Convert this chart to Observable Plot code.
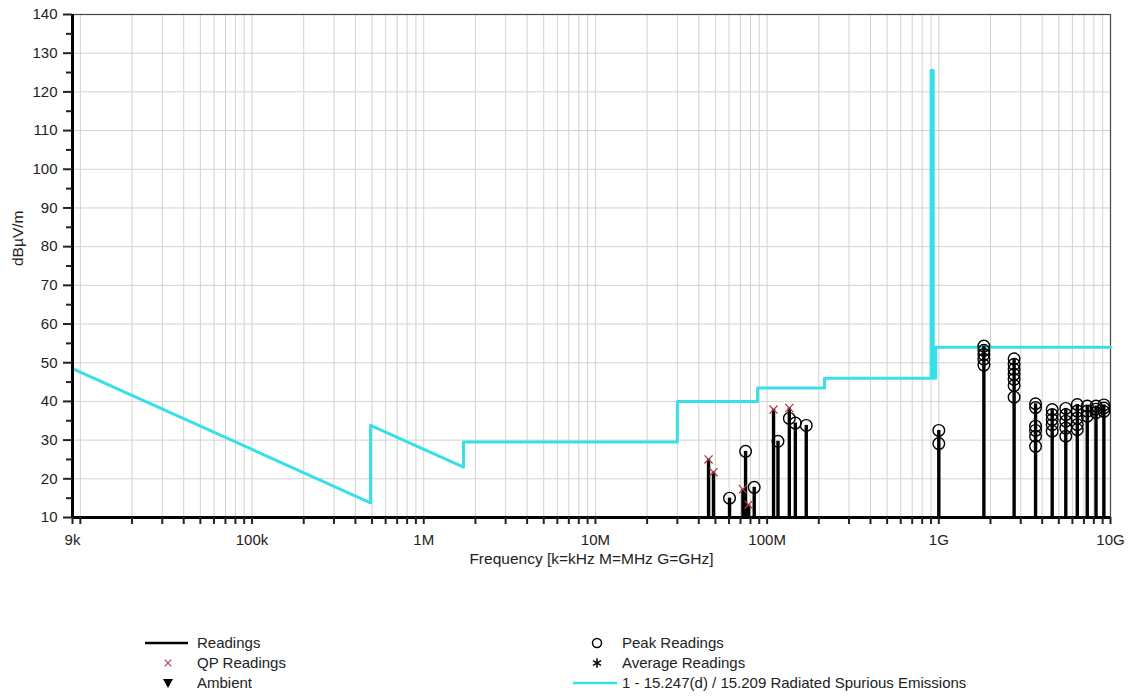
<!DOCTYPE html>
<html>
<head>
<meta charset="utf-8">
<script src="https://cdn.jsdelivr.net/npm/d3@7"></script>
<script src="https://cdn.jsdelivr.net/npm/@observablehq/plot@0.6"></script>
<style>
  html, body { margin: 0; padding: 0; background: white; }
  #wrap { position: relative; width: 1129px; height: 696px; font-family: "Liberation Sans", Arial, sans-serif; }
  #chart { position: absolute; left: 0; top: 0; }
  #legend { position: absolute; left: 0; top: 620px; }
</style>
</head>
<body>
<div id="wrap"><div id="chart"></div><div id="legend"></div></div>
<script>
// ---- Limit line: 1 - 15.247(d) / 15.209 Radiated Spurious Emissions ----
const limitFreq  = [9e3, 490e3, 490e3, 1.705e6, 1.705e6, 30e6, 30e6, 88e6, 88e6, 216e6, 216e6, 902e6, 902e6, 928e6, 928e6, 960e6, 960e6, 1e10];
const limitLevel = [48.5, 13.8, 33.8, 23.0, 29.5, 29.5, 40.0, 40.0, 43.5, 43.5, 46.0, 46.0, 125.5, 125.5, 46.0, 46.0, 54.0, 54.0];

// ---- QP readings ----
const qpFreq  = [45.6e6, 48.7e6, 72.3e6, 78e6, 109e6, 134.7e6];
const qpLevel = [25.0, 21.7, 17.3, 13.3, 37.9, 38.3];

// ---- Peak readings ----
const peakFreq = [
  60.4e6, 74.9e6, 84.1e6, 115.7e6, 134.7e6, 146e6, 169e6,
  1.0e9, 1.0e9,
  1.83e9, 1.83e9, 1.83e9, 1.83e9, 1.83e9,
  2.745e9, 2.745e9, 2.745e9, 2.745e9, 2.745e9, 2.745e9, 2.745e9,
  3.66e9, 3.66e9, 3.66e9, 3.66e9, 3.66e9, 3.66e9,
  4.575e9, 4.575e9, 4.575e9, 4.575e9, 4.575e9,
  5.49e9, 5.49e9, 5.49e9, 5.49e9, 5.49e9,
  6.405e9, 6.405e9, 6.405e9, 6.405e9, 6.405e9,
  7.32e9, 7.32e9, 7.32e9,
  8.235e9, 8.235e9, 8.235e9,
  9.15e9, 9.15e9, 9.15e9
];
const peakLevel = [
  15.0, 27.1, 17.8, 29.7, 35.6, 34.4, 33.8,
  32.5, 29.1,
  54.3, 53.2, 52.1, 50.9, 49.4,
  51.0, 49.6, 48.3, 47.0, 45.7, 44.1, 41.1,
  39.4, 38.4, 33.6, 32.5, 31.0, 28.4,
  37.9, 36.6, 35.3, 34.0, 32.3,
  38.2, 36.6, 34.9, 33.1, 31.0,
  39.2, 37.5, 35.7, 34.0, 32.7,
  38.8, 37.5, 36.2,
  38.8, 38.0, 37.1,
  39.1, 38.3, 37.4
];

// ---- Axis ticks ----
const xTickValues = [9e3, 1e5, 1e6, 1e7, 1e8, 1e9, 1e10];
const xTickLabels = ["9k", "100k", "1M", "10M", "100M", "1G", "10G"];
const yTickValues = [10, 20, 30, 40, 50, 60, 70, 80, 90, 100, 110, 120, 130, 140];
const yMinorTicks = [15, 25, 35, 45, 55, 65, 75, 85, 95, 105, 115, 125, 135];

const xMinorTicks = [];
for (let e = 3; e <= 10; e++) for (let m = 1; m <= 9; m++) {
  const v = m * Math.pow(10, e);
  if (v >= 9e3 && v <= 1e10) xMinorTicks.push(v);
}

const limit = limitFreq.map((f, i) => ({freq: f, level: limitLevel[i]}));
const qp = qpFreq.map((f, i) => ({freq: f, level: qpLevel[i]}));
const peaks = peakFreq.map((f, i) => ({freq: f, level: peakLevel[i]}));
const stems = d3.rollups([...qp, ...peaks], v => d3.max(v, d => d.level), d => d.freq)
  .map(([freq, level]) => ({freq, level}));
const xLabels = xTickValues.map((v, i) => ({v, t: xTickLabels[i]}));

const chart = Plot.plot({
  width: 1129,
  height: 580,
  marginLeft: 72,
  marginRight: 19,
  marginTop: 14,
  marginBottom: 63,
  x: {type: "log", domain: [9e3, 1e10]},
  y: {domain: [10, 140]},
  style: {fontFamily: "'Liberation Sans', Arial, sans-serif", fontSize: "15px", color: "#222", background: "white", overflow: "visible"},
  marks: [
    Plot.gridX(xMinorTicks, {stroke: "#d2d2d2", strokeOpacity: 1}),
    Plot.gridY(yTickValues, {stroke: "#d2d2d2", strokeOpacity: 1}),
    Plot.frame({stroke: "#444", strokeWidth: 1.2}),
    Plot.line(limit, {x: "freq", y: "level", stroke: "#38dfe9", strokeWidth: 3}),
    Plot.ruleX(stems, {x: "freq", y1: 10, y2: "level", stroke: "black", strokeWidth: 3.4}),
    Plot.dot(peaks, {x: "freq", y: "level", r: 5.8, stroke: "black", strokeWidth: 1.4, fill: "none"}),
    Plot.dot(qp, {x: "freq", y: "level", symbol: "times", r: 3.8, stroke: "#b03a4a", strokeWidth: 1.3}),
    Plot.ruleY([10], {stroke: "black", strokeWidth: 3}),
    Plot.ruleX([9e3], {stroke: "black", strokeWidth: 3}),
    Plot.axisX(xMinorTicks, {tickSize: 7, strokeWidth: 2, tickFormat: () => "", label: null}),
    Plot.text(xLabels, {x: "v", text: "t", frameAnchor: "bottom", dy: 27, fontSize: 15, fill: "#222"}),
    Plot.axisY(yMinorTicks, {tickSize: 6, strokeWidth: 2, tickFormat: () => "", label: null}),
    Plot.axisY(yTickValues, {tickSize: 9, strokeWidth: 2, tickPadding: 6, fontSize: 15, label: null}),
    Plot.text(["Frequency [k=kHz M=MHz G=GHz]"], {frameAnchor: "bottom", dy: 46, fontSize: 15.5, fill: "#222"}),
    Plot.text(["dBµV/m"], {frameAnchor: "left", dx: -54, rotate: -90, fontSize: 15.5, fill: "#222"})
  ]
});
document.getElementById("chart").appendChild(chart);

// ---- Legend ----
const leg = d3.create("svg").attr("width", 1129).attr("height", 76)
  .style("font-family", "'Liberation Sans', Arial, sans-serif").style("font-size", "15px");
const rows = [23, 43, 63];
// left column
leg.append("line").attr("x1", 145).attr("x2", 188).attr("y1", rows[0]).attr("y2", rows[0]).attr("stroke", "black").attr("stroke-width", 2.5);
leg.append("path").attr("d", d3.symbol(d3.symbolTimes, 30)()).attr("transform", `translate(168,${rows[1]})`).attr("stroke", "#b03a4a").attr("stroke-width", 1.1).attr("fill", "none");
leg.append("path").attr("d", "M-5,-4L5,-4L0,5Z").attr("transform", `translate(168,${rows[2]})`).attr("fill", "black");
["Readings", "QP Readings", "Ambient"].forEach((t, i) =>
  leg.append("text").attr("x", 197).attr("y", rows[i]).attr("dy", "0.35em").attr("fill", "#222").text(t));
// right column
leg.append("circle").attr("cx", 597).attr("cy", rows[0]).attr("r", 4.5).attr("fill", "none").attr("stroke", "black").attr("stroke-width", 1.5);
leg.append("path").attr("d", d3.symbol(d3.symbolAsterisk, 60)()).attr("transform", `translate(597,${rows[1]})`).attr("stroke", "black").attr("stroke-width", 1.5).attr("fill", "none");
leg.append("line").attr("x1", 573).attr("x2", 617).attr("y1", rows[2]).attr("y2", rows[2]).attr("stroke", "#38dfe9").attr("stroke-width", 2.5);
["Peak Readings", "Average Readings", "1 - 15.247(d) / 15.209 Radiated Spurious Emissions"].forEach((t, i) =>
  leg.append("text").attr("x", 622).attr("y", rows[i]).attr("dy", "0.35em").attr("fill", "#222").text(t));
document.getElementById("legend").appendChild(leg.node());
</script>
</body>
</html>
